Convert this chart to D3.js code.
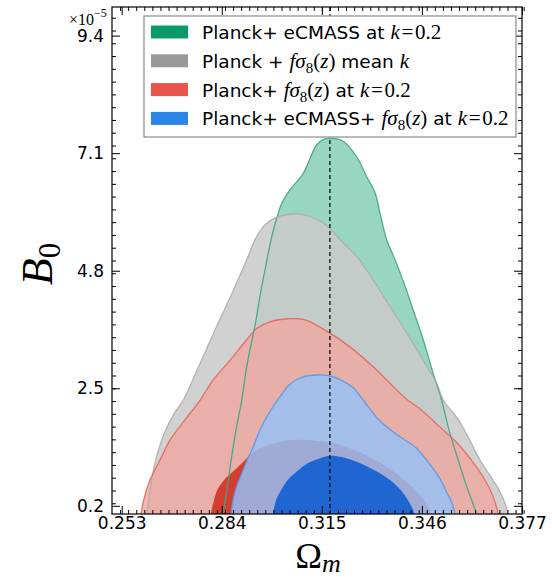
<!DOCTYPE html>
<html><head><meta charset="utf-8">
<script src="https://cdn.jsdelivr.net/npm/d3@7"></script>
<style>html,body{margin:0;padding:0;background:#fff;} svg{display:block}</style>
</head><body>
<svg id="c" width="552" height="580"></svg>
<script>
// ---------- data (Omega_m, B0 in units of 1e-5) ----------
const xTickValues = [0.253, 0.284, 0.315, 0.346, 0.377];
const xTickLabels = ["0.253", "0.284", "0.315", "0.346", "0.377"];
const yTickValues = [0.2, 2.5, 4.8, 7.1, 9.4];
const yTickLabels = ["0.2", "2.5", "4.8", "7.1", "9.4"];
const fiducialOmegaM = 0.3175;

// 95% contour, Planck + eCMASS at k=0.2
const greenOuter = [[0.2835,-0.3],[0.2844,0.04],[0.2856,0.51],[0.2869,1.10],[0.2884,1.68],[0.2902,2.27],[0.2917,2.92],[0.2945,3.80],[0.2958,4.29],[0.2974,4.82],[0.2995,5.47],[0.3015,5.93],[0.3026,6.12],[0.3051,6.38],[0.3093,6.71],[0.3134,7.26],[0.3160,7.38],[0.3175,7.39],[0.3197,7.38],[0.3217,7.33],[0.3258,7.03],[0.3289,6.64],[0.3315,6.32],[0.3330,5.93],[0.3351,5.40],[0.3377,5.01],[0.3408,4.49],[0.3433,4.03],[0.3464,3.45],[0.3495,2.79],[0.3521,2.27],[0.3544,1.68],[0.3569,1.16],[0.3597,0.61],[0.3628,0.04],[0.3633,-0.3]];
// 95% contour, Planck + fs8 mean k
const grayOuter = [[0.2600,-0.3],[0.2608,0.04],[0.2618,0.51],[0.2627,0.86],[0.2642,1.25],[0.2664,1.65],[0.2692,2.00],[0.2721,2.27],[0.2773,2.99],[0.2824,3.71],[0.2876,4.42],[0.2917,5.01],[0.2948,5.47],[0.2979,5.73],[0.3020,5.87],[0.3062,5.91],[0.3098,5.89],[0.3155,5.73],[0.3217,5.34],[0.3258,5.08],[0.3309,4.62],[0.3361,4.10],[0.3413,3.58],[0.3464,3.05],[0.3506,2.60],[0.3526,2.27],[0.3569,1.92],[0.3603,1.55],[0.3634,1.16],[0.3668,0.82],[0.3699,0.51],[0.3717,0.26],[0.3727,0.04],[0.3732,-0.3]];
// Planck + fs8 at k=0.2 (95% and 68%)
const redOuter = [[0.2585,-0.3],[0.2590,0.04],[0.2602,0.41],[0.2618,0.71],[0.2649,1.10],[0.2680,1.49],[0.2726,1.88],[0.2773,2.27],[0.2813,2.66],[0.2866,3.05],[0.2912,3.41],[0.2948,3.67],[0.2989,3.80],[0.3046,3.86],[0.3098,3.84],[0.3175,3.58],[0.3237,3.31],[0.3309,2.92],[0.3361,2.60],[0.3408,2.31],[0.3457,2.08],[0.3516,1.74],[0.3569,1.43],[0.3615,1.08],[0.3655,0.71],[0.3680,0.39],[0.3696,0.04],[0.3700,-0.3]];
const redInner = [[0.2800,-0.3],[0.2806,0.04],[0.2816,0.31],[0.2826,0.51],[0.2848,0.71],[0.2870,0.84],[0.2903,1.04],[0.2934,1.23],[0.2969,1.35],[0.3036,1.47],[0.3100,1.49],[0.3144,1.47],[0.3187,1.43],[0.3243,1.31],[0.3296,1.16],[0.3352,0.96],[0.3405,0.71],[0.3435,0.53],[0.3459,0.37],[0.3476,0.22],[0.3488,0.04],[0.3492,-0.3]];
// Planck + eCMASS + fs8 at k=0.2 (95% and 68%)
const blueOuter = [[0.2866,-0.3],[0.2869,0.04],[0.2875,0.31],[0.2884,0.55],[0.2900,0.80],[0.2915,1.04],[0.2937,1.35],[0.2958,1.68],[0.2983,1.98],[0.3020,2.33],[0.3051,2.58],[0.3089,2.72],[0.3138,2.76],[0.3175,2.74],[0.3209,2.66],[0.3247,2.51],[0.3278,2.27],[0.3327,1.88],[0.3383,1.59],[0.3439,1.35],[0.3479,1.06],[0.3513,0.76],[0.3538,0.45],[0.3553,0.26],[0.3562,0.04],[0.3565,-0.3]];
const blueInner = [[0.2996,-0.3],[0.2999,0.04],[0.3008,0.31],[0.3024,0.51],[0.3045,0.71],[0.3067,0.84],[0.3098,1.00],[0.3132,1.10],[0.3175,1.18],[0.3206,1.16],[0.3240,1.10],[0.3287,0.98],[0.3329,0.84],[0.3364,0.69],[0.3394,0.51],[0.3417,0.31],[0.3437,0.04],[0.3440,-0.3]];

// legend labels: [text, kind]  s = sans, i = math italic, r = math roman, b = subscript
const legendLabels = [
  [["Planck+ eCMASS at ","s"],["k","i"],["\u200a=\u200a0.2","r"]],
  [["Planck + ","s"],["f\u03c3","i"],["8","b"],["(","r"],["z","i"],[")","r"],[" mean ","s"],["k","i"]],
  [["Planck+ ","s"],["f\u03c3","i"],["8","b"],["(","r"],["z","i"],[")","r"],[" at ","s"],["k","i"],["\u200a=\u200a0.2","r"]],
  [["Planck+ eCMASS+ ","s"],["f\u03c3","i"],["8","b"],["(","r"],["z","i"],[")","r"],[" at ","s"],["k","i"],["\u200a=\u200a0.2","r"]]
];

// ---------- styling ----------
const legendColors = ["#0a9a68", "#999999", "#e8554a", "#2b86e8"];
const L = {left:112, right:522, top:7, bottom:514};
const sansFont = "'DejaVu Sans', sans-serif";
const serifFont = "'Liberation Serif', 'Times New Roman', serif";

const svg = d3.select("#c");
const x = d3.scaleLinear().domain([0.25, 0.377]).range([L.left, L.right]);
const y = d3.scaleLinear().domain([0.04, 9.96]).range([L.bottom, L.top]);

svg.append("defs").append("clipPath").attr("id","clip")
  .append("rect").attr("x",L.left).attr("y",L.top).attr("width",L.right-L.left).attr("height",L.bottom-L.top);

const plot = svg.append("g").attr("clip-path","url(#clip)");
const lineGen = d3.line().x(d=>x(d[0])).y(d=>y(d[1])).curve(d3.curveCatmullRom.alpha(0.5));
const shape = pts => lineGen(pts) + "Z";

const fills = [
  {pts: greenOuter, fill:"#009966", op:0.40},
  {pts: grayOuter,  fill:"#cacaca", op:0.87},
  {pts: redOuter,   fill:"#f0a7a1", op:0.82},
  {pts: redInner,   fill:"#d2382a", op:0.95},
  {pts: blueOuter,  fill:"#95c2f6", op:0.83},
  {pts: blueInner,  fill:"#1f66d2", op:1.0}
];
fills.forEach(f => plot.append("path").attr("d", shape(f.pts)).attr("fill", f.fill).attr("fill-opacity", f.op));

const edges = [
  {pts: greenOuter, c:"#3ea67e"},
  {pts: grayOuter,  c:"#adadad"},
  {pts: redOuter,   c:"#e2675c"},
  {pts: blueOuter,  c:"#5a98e6"}
];
edges.forEach(e => plot.append("path").attr("d", shape(e.pts)).attr("fill","none")
  .attr("stroke", e.c).attr("stroke-width",1.3).attr("stroke-opacity",0.9));

// fiducial dashed line
plot.append("line").attr("x1",x(fiducialOmegaM)).attr("x2",x(fiducialOmegaM))
  .attr("y1",L.top).attr("y2",L.bottom).attr("stroke","#000").attr("stroke-width",1.2)
  .attr("stroke-dasharray","4,3");

// ---------- axes ----------
const xMinor = d3.range(0.2525, 0.3776, 0.0025);
const yMinor = d3.range(0.25, 9.9, 0.25);

function styleAxis(g){ g.select(".domain").remove(); g.selectAll("line").attr("stroke","#000").attr("stroke-width",1); }

svg.append("g").attr("transform",`translate(0,${L.bottom})`)
  .call(d3.axisBottom(x).tickValues(xMinor).tickSize(-4).tickFormat("")).call(styleAxis);
svg.append("g").attr("transform",`translate(0,${L.top})`)
  .call(d3.axisTop(x).tickValues(xMinor).tickSize(-4).tickFormat("")).call(styleAxis);
svg.append("g").attr("transform",`translate(${L.left},0)`)
  .call(d3.axisLeft(y).tickValues(yMinor).tickSize(-4).tickFormat("")).call(styleAxis);
svg.append("g").attr("transform",`translate(${L.right},0)`)
  .call(d3.axisRight(y).tickValues(yMinor).tickSize(-4).tickFormat("")).call(styleAxis);

const xb = svg.append("g").attr("transform",`translate(0,${L.bottom})`)
  .call(d3.axisBottom(x).tickValues(xTickValues).tickSize(-8).tickPadding(3)
    .tickFormat((d,i)=>xTickLabels[i])).call(styleAxis);
xb.selectAll("text").attr("font-family",sansFont).attr("font-size",17).attr("fill","#000");
svg.append("g").attr("transform",`translate(0,${L.top})`)
  .call(d3.axisTop(x).tickValues(xTickValues).tickSize(-8).tickFormat("")).call(styleAxis);
const yl = svg.append("g").attr("transform",`translate(${L.left},0)`)
  .call(d3.axisLeft(y).tickValues(yTickValues).tickSize(-8).tickPadding(8)
    .tickFormat((d,i)=>yTickLabels[i])).call(styleAxis);
yl.selectAll("text").attr("font-family",sansFont).attr("font-size",17).attr("fill","#000");
svg.append("g").attr("transform",`translate(${L.right},0)`)
  .call(d3.axisRight(y).tickValues(yTickValues).tickSize(-8).tickFormat("")).call(styleAxis);

// frame
svg.append("rect").attr("x",L.left).attr("y",L.top).attr("width",L.right-L.left).attr("height",L.bottom-L.top)
  .attr("fill","none").attr("stroke","#000").attr("stroke-width",1.2);

// offset text
const off = svg.append("text").attr("x",69).attr("y",25).attr("font-family",serifFont).attr("font-size",16).attr("fill","#000");
off.append("tspan").text("\u00d710");
off.append("tspan").attr("dy",-8).attr("font-size",12).text("\u22125");

// axis labels
const xlab = svg.append("text").attr("x",318).attr("y",568).attr("text-anchor","middle")
  .attr("font-family",serifFont).attr("fill","#000");
xlab.append("tspan").attr("font-size",36).text("\u03a9");
xlab.append("tspan").attr("font-size",26).attr("font-style","italic").attr("dy",4).text("m");

const ylab = svg.append("text").attr("transform","translate(52,264) rotate(-90)").attr("text-anchor","middle")
  .attr("font-family",serifFont).attr("fill","#000");
ylab.append("tspan").attr("font-size",44).attr("font-style","italic").text("B");
ylab.append("tspan").attr("font-size",31).attr("dy",8).text("0");

// ---------- legend ----------
const lg = svg.append("g");
lg.append("rect").attr("x",144).attr("y",16).attr("width",372).attr("height",121)
  .attr("fill","#fff").attr("stroke","#8a8a8a").attr("stroke-width",1.2);
legendLabels.forEach((segs,i)=>{
  const cy = 32 + i*28.8;
  lg.append("rect").attr("x",151).attr("y",cy-6.5).attr("width",37).attr("height",13).attr("fill",legendColors[i]);
  const t = lg.append("text").attr("x",202).attr("y",cy+7).attr("fill","#000");
  let lowered = false;
  segs.forEach(([txt,kind])=>{
    const ts = t.append("tspan").text(txt);
    if(kind==="s"){ ts.attr("font-family",sansFont).attr("font-size",18.5); }
    else if(kind==="i"){ ts.attr("font-family",serifFont).attr("font-size",21).attr("font-style","italic"); }
    else if(kind==="r"){ ts.attr("font-family",serifFont).attr("font-size",21); }
    else if(kind==="b"){ ts.attr("font-family",serifFont).attr("font-size",15).attr("dy",5); lowered = true; return; }
    if(lowered){ ts.attr("dy",-5); lowered=false; }
  });
});
</script>
</body></html>
